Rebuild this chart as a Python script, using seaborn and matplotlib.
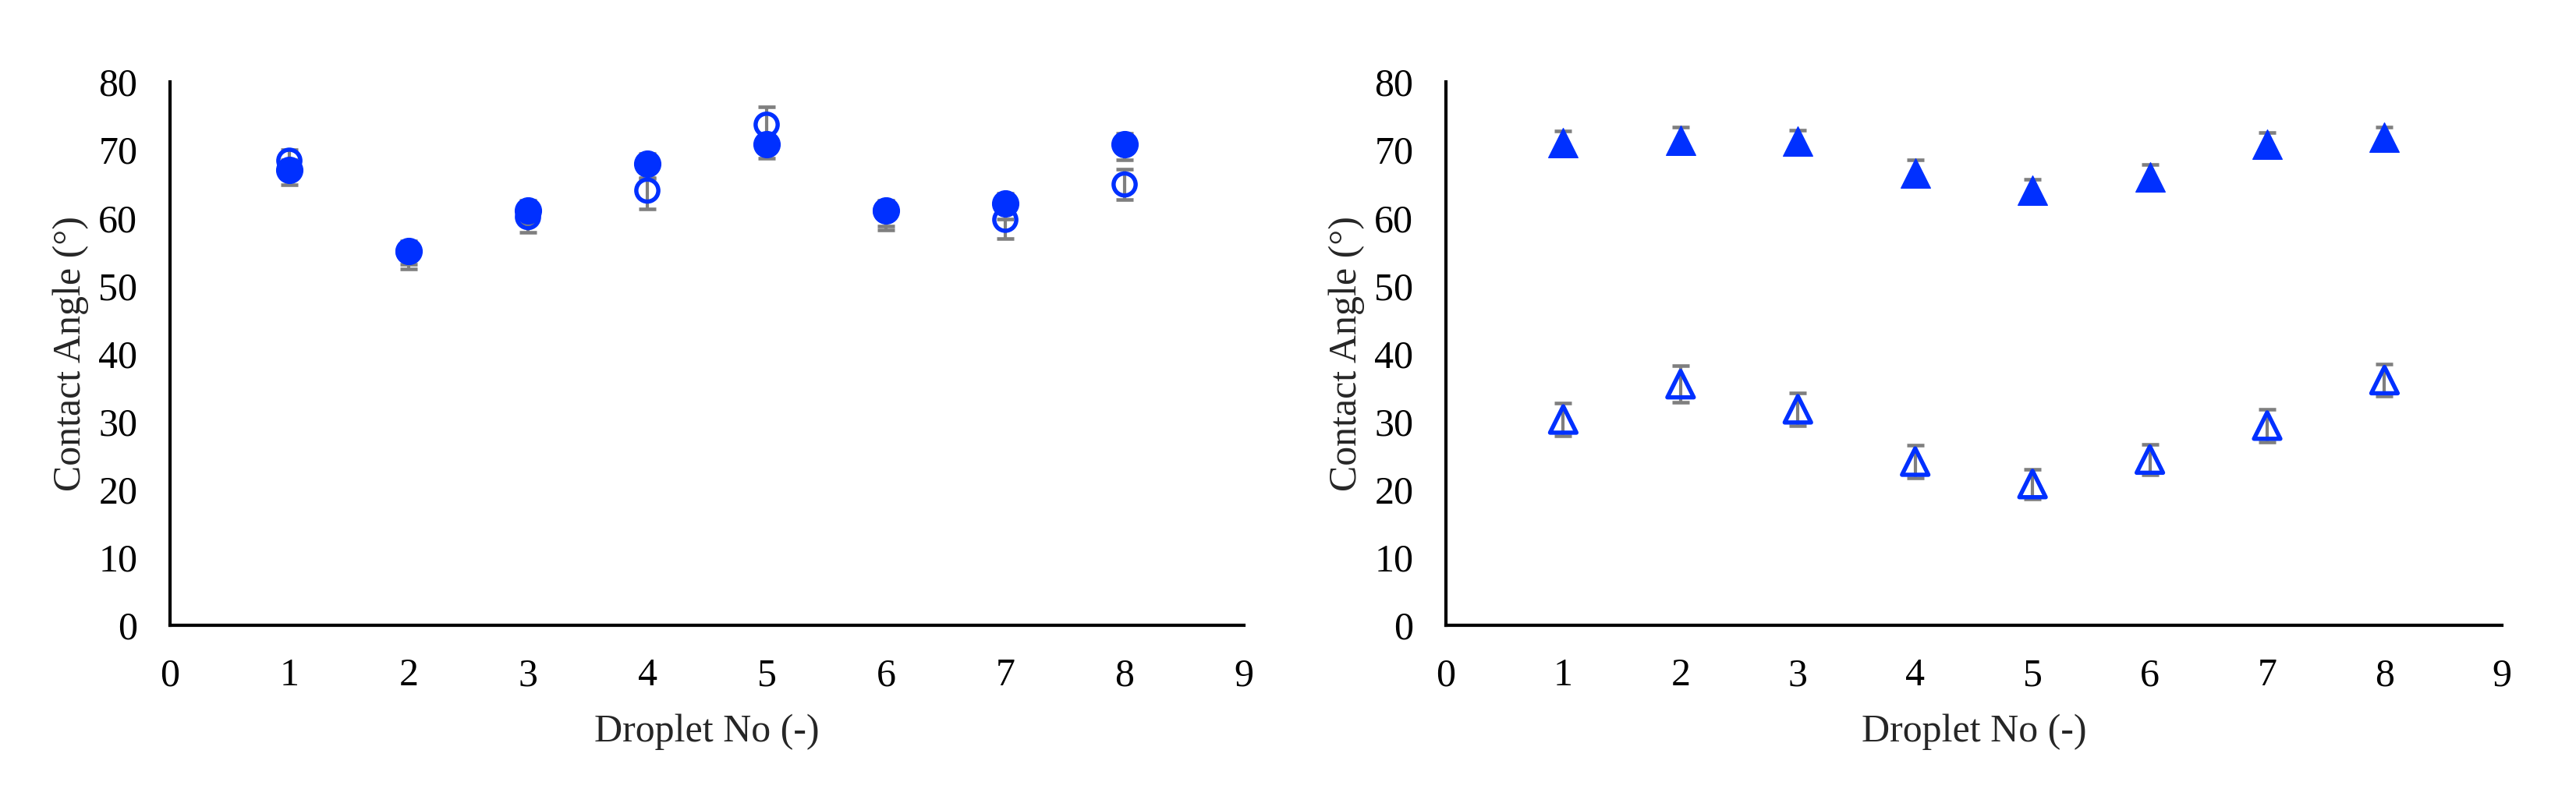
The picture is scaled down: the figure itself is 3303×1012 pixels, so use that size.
import numpy as np
import pandas as pd
import matplotlib
matplotlib.use("Agg")
import matplotlib.pyplot as plt
import seaborn as sns

# ---------------- data ----------------
droplets = [1, 2, 3, 4, 5, 6, 7, 8]

# left panel (circles)
circle_filled = [67.0, 55.1, 61.1, 67.9, 70.8, 61.1, 62.1, 70.8]
circle_filled_err_lo = [2.2, 2.0, 2.0, 2.0, 2.0, 2.3, 2.3, 2.3]
circle_filled_err_hi = [1.5, 1.5, 1.5, 1.5, 1.5, 1.5, 1.5, 1.6]
circle_open = [68.4, 55.0, 60.1, 64.0, 73.7, 61.0, 59.7, 64.9]
circle_open_err_lo = [1.6, 2.5, 2.3, 2.75, 2.0, 2.8, 2.8, 2.2]
circle_open_err_hi = [1.6, 1.4, 2.0, 1.8, 2.6, 1.4, 1.8, 2.2]

# right panel (triangles)
tri_filled = [71.0, 71.4, 71.3, 66.6, 64.0, 66.0, 70.8, 71.8]
tri_filled_err = [1.8, 2.0, 1.6, 1.9, 1.7, 1.8, 1.7, 1.6]
tri_open = [30.3, 35.5, 31.8, 24.1, 20.8, 24.4, 29.4, 36.1]
tri_open_err = [2.4, 2.7, 2.45, 2.4, 2.15, 2.2, 2.4, 2.4]

x_ticks = list(range(0, 10))
y_ticks = list(range(0, 90, 10))
xlabel = "Droplet No (-)"
ylabel = "Contact Angle (°)"

BLUE = "#0030FF"
GREY = "#7F7F7F"

sns.set_theme(style="white")
plt.rcParams["font.family"] = ["Liberation Serif", "DejaVu Serif"]
plt.rcParams["font.size"] = 12

fig = plt.figure(figsize=(3303 / 300, 1012 / 300), dpi=300)
ax1 = fig.add_axes([0.0660, 0.2075, 0.4169, 0.6887])
ax2 = fig.add_axes([0.5613, 0.2075, 0.4099, 0.6887])


def panel(ax, filled, filled_err, opened, opened_err, marker, s_filled, s_open):
    df_f = pd.DataFrame({"x": droplets, "y": filled})
    df_o = pd.DataFrame({"x": droplets, "y": opened})
    for df, err in ((df_o, opened_err), (df_f, filled_err)):
        ax.errorbar(df["x"], df["y"], yerr=err, fmt="none", ecolor=GREY,
                    elinewidth=1.0, capsize=2.6, capthick=1.1, zorder=2)
    sns.scatterplot(data=df_o, x="x", y="y", ax=ax, marker=marker, s=s_open,
                    facecolor="none", edgecolor=BLUE, linewidth=1.3, zorder=3,
                    legend=False)
    sns.scatterplot(data=df_f, x="x", y="y", ax=ax, marker=marker, s=s_filled,
                    color=BLUE, edgecolor=BLUE, linewidth=0.3, zorder=4,
                    legend=False)
    ax.set_xlim(0, 9)
    ax.set_ylim(0, 80)
    ax.set_xticks(x_ticks)
    ax.set_yticks(y_ticks)
    ax.set_xticklabels([str(v) for v in x_ticks])
    ax.set_yticklabels([str(v) for v in y_ticks])
    ax.tick_params(axis="both", length=0, pad=10, labelsize=12, colors="black")
    ax.set_xlabel(xlabel, fontsize=12, labelpad=6)
    ax.set_ylabel(ylabel, fontsize=12, labelpad=3)
    for side in ("top", "right"):
        ax.spines[side].set_visible(False)
    for side in ("left", "bottom"):
        ax.spines[side].set_color("black")
        ax.spines[side].set_linewidth(1.0)
    ax.grid(False)


panel(ax1, circle_filled, [circle_filled_err_lo, circle_filled_err_hi],
      circle_open, [circle_open_err_lo, circle_open_err_hi], "o", 66, 46)
panel(ax2, tri_filled, tri_filled_err, tri_open, tri_open_err, "^", 82, 66)

fig.savefig("out.png", dpi=300, facecolor="white")
